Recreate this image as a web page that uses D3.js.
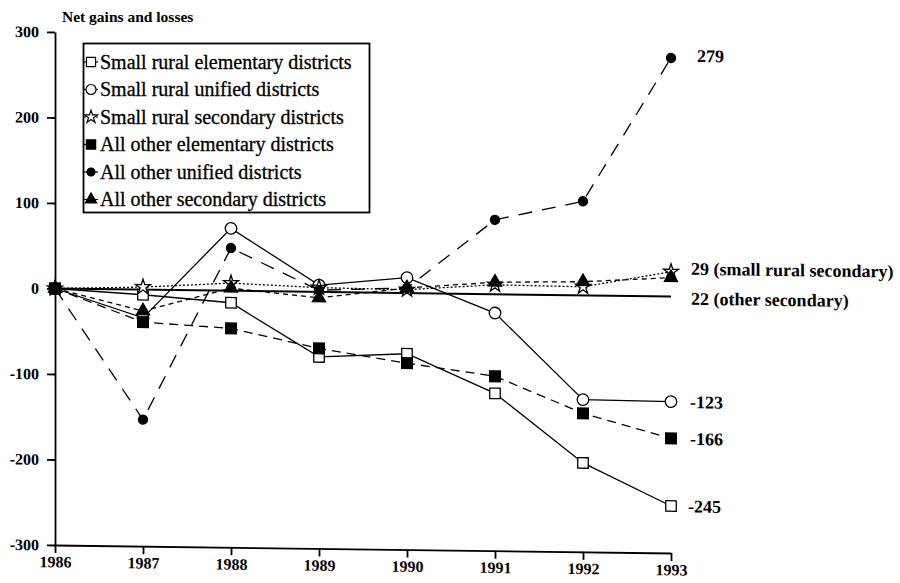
<!DOCTYPE html>
<html>
<head>
<meta charset="utf-8">
<script src="https://cdn.jsdelivr.net/npm/d3@7"></script>
<style>
  body { margin: 0; background: #fff; }
  svg { font-family: "Liberation Serif", "Times New Roman", serif; }
</style>
</head>
<body>
<div id="chart"></div>
<script>
// data
var years = [1986, 1987, 1988, 1989, 1990, 1991, 1992, 1993];
var yTicks = [-300, -200, -100, 0, 100, 200, 300];

var seriesNames = [
  "Small rural elementary districts",
  "Small rural unified districts",
  "Small rural secondary districts",
  "All other elementary districts",
  "All other unified districts",
  "All other secondary districts"
];

var smallRuralElementary = [0, -6, -14, -76, -71, -116, -196, -245];
var smallRuralUnified    = [0, -33, 73, 8, 18, -22, -122, -123];
var smallRuralSecondary  = [0, 3, 9, 5, 4, 11, 10, 29];
var otherElementary      = [0, -38, -44, -66, -82, -96, -138, -166];
var otherUnified         = [0, -152, 50, 2, 6, 87, 110, 279];
var otherSecondary       = [0, -25, 3, -7, 6, 14, 16, 22];

var endLabels = ["-245", "-123", "29 (small  rural secondary)", "-166", "279", "22 (other secondary)"];

var allSeries = [smallRuralElementary, smallRuralUnified, smallRuralSecondary,
                 otherElementary, otherUnified, otherSecondary];

// marker / line look per series
var styles = [
  {sym: d3.symbolSquare,   size: 110, fill: "#fff",  dash: null},
  {sym: d3.symbolCircle,   size: 105, fill: "#fff",  dash: null},
  {sym: d3.symbolStar,     size: 70,  fill: "#fff",  dash: "2,2"},
  {sym: d3.symbolSquare,   size: 115, fill: "#000",  dash: "9,6"},
  {sym: d3.symbolCircle,   size: 65,  fill: "#000",  dash: "14,10"},
  {sym: d3.symbolTriangle, size: 75,  fill: "#000",  dash: "5,4"}
];

var W = 900, H = 583;
var margin = {left: 55};
var shear = Math.atan(8 / 616) * 180 / Math.PI;   // the scan is slightly sheared

var svg = d3.select("#chart").append("svg")
    .attr("width", W)
    .attr("height", H);

var x = d3.scaleLinear().domain([1986, 1993]).range([0, 616]);
var y = d3.scaleLinear().domain([-300, 300]).range([545, 32]);

svg.append("text")
    .attr("x", 62)
    .attr("y", 22)
    .attr("font-size", 15.5)
    .attr("font-weight", "bold")
    .text("Net gains and losses");

var g = svg.append("g")
    .attr("transform", "translate(" + margin.left + ",0) skewY(" + shear + ")");

var yAxis = d3.axisLeft(y)
    .tickValues(yTicks)
    .tickSize(8)
    .tickSizeOuter(0)
    .tickPadding(8)
    .tickFormat(function(d) { return String(d); });

var xAxis = d3.axisBottom(x)
    .tickValues(years)
    .tickSize(8)
    .tickSizeOuter(0)
    .tickPadding(3)
    .tickFormat(function(d) { return String(d); });

g.append("g")
    .attr("class", "y axis")
    .call(yAxis);

g.append("g")
    .attr("class", "x axis")
    .attr("transform", "translate(0," + y(-300) + ")")
    .call(xAxis);

g.selectAll(".axis path, .axis line")
    .attr("stroke", "#000")
    .attr("stroke-width", 1.8);
g.selectAll(".axis text")
    .attr("fill", "#000")
    .attr("font-family", "Liberation Serif, serif")
    .attr("font-weight", "bold")
    .attr("font-size", 16);

// zero reference line
g.append("line")
    .attr("x1", x(1986)).attr("x2", x(1993))
    .attr("y1", y(0)).attr("y2", y(0))
    .attr("stroke", "#000")
    .attr("stroke-width", 2);

var line = d3.line()
    .x(function(d, i) { return x(years[i]); })
    .y(function(d) { return y(d); });

allSeries.forEach(function(vals, k) {
  g.append("path")
      .datum(vals)
      .attr("d", line)
      .attr("fill", "none")
      .attr("stroke", "#000")
      .attr("stroke-width", 1.3)
      .attr("stroke-dasharray", styles[k].dash);
});

allSeries.forEach(function(vals, k) {
  var s = styles[k];
  g.selectAll(".m" + k)
      .data(vals)
    .enter().append("path")
      .attr("class", "m" + k)
      .attr("transform", function(d, i) { return "translate(" + x(years[i]) + "," + y(d) + ")"; })
      .attr("d", d3.symbol().type(s.sym).size(s.size))
      .attr("fill", s.fill)
      .attr("stroke", "#000")
      .attr("stroke-width", 1.3);
});

// labels at the right end
var labelAt = [
  {v: smallRuralElementary[7], dx: 17},
  {v: smallRuralUnified[7], dx: 19},
  {v: smallRuralSecondary[7] + 4, dx: 20},
  {v: otherElementary[7], dx: 19},
  {v: otherUnified[7] + 3, dx: 26},
  {v: -2, dx: 20}
];
endLabels.forEach(function(t, k) {
  g.append("text")
      .attr("x", x(1993) + labelAt[k].dx)
      .attr("y", y(labelAt[k].v))
      .attr("dy", "0.35em")
      .attr("font-size", 18)
      .attr("font-weight", "bold")
      .text(t);
});

// legend
var legend = svg.append("g");
legend.append("rect")
    .attr("x", 83.5).attr("y", 43.5)
    .attr("width", 286).attr("height", 169)
    .attr("fill", "#fff")
    .attr("stroke", "#000")
    .attr("stroke-width", 1.8);

seriesNames.forEach(function(name, k) {
  var s = styles[k];
  var cy = 62 + k * 27.5;
  legend.append("line")
      .attr("x1", 84).attr("x2", 98)
      .attr("y1", cy).attr("y2", cy)
      .attr("stroke", "#000")
      .attr("stroke-width", 1.2)
      .attr("stroke-dasharray", s.dash);
  legend.append("path")
      .attr("transform", "translate(91," + cy + ")")
      .attr("d", d3.symbol().type(s.sym).size(s.size * 0.75))
      .attr("fill", s.fill)
      .attr("stroke", "#000")
      .attr("stroke-width", 1.2);
  legend.append("text")
      .attr("x", 100)
      .attr("y", cy)
      .attr("dy", "0.33em")
      .attr("font-size", 20)
      .attr("stroke", "#000")
      .attr("stroke-width", 0.3)
      .text(name);
});
</script>
</body>
</html>
